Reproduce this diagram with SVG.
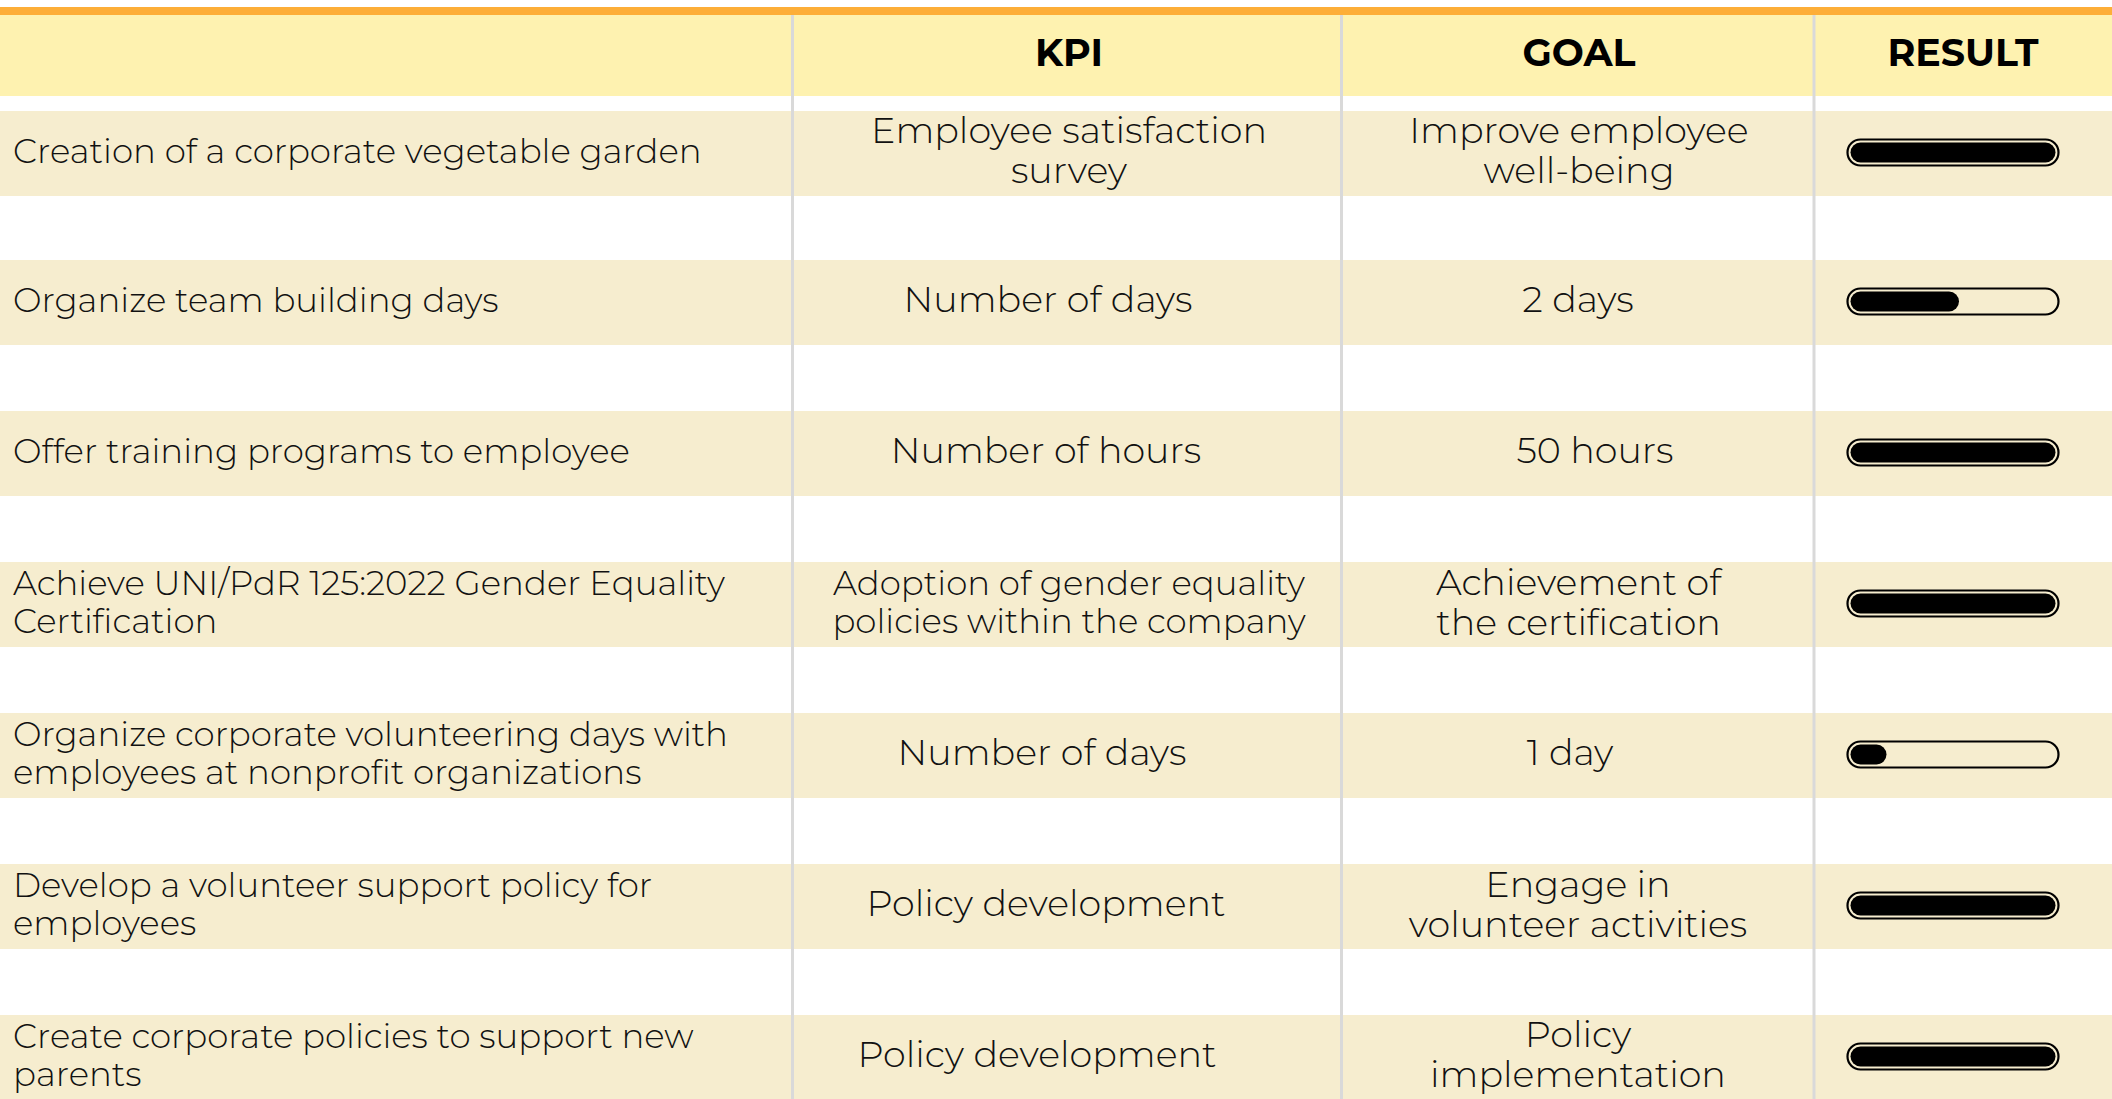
<svg xmlns="http://www.w3.org/2000/svg" width="2112" height="1099" viewBox="0 0 2112 1099">
<style>
.bg{fill:#ffffff}
.top{fill:#FDAE38}
.head{fill:#FEF2B0}
.row{fill:#F6EDCF}
.div{stroke:#D9D9D9;stroke-width:3}
.h{font-family:Montserrat,"Open Sans",sans-serif;font-size:38px;font-weight:700;fill:#000;text-anchor:middle}
.t{font-family:Montserrat,"Open Sans",sans-serif;font-size:34px;font-weight:300;fill:#111}
.c{text-anchor:middle}
.m{font-size:36.5px}
.frame{fill:#F6EDCF;stroke:#000;stroke-width:2.2}
.fill{fill:#000}
</style>
<rect class="bg" x="0" y="0" width="2112" height="1099"/>
<rect class="top" x="0" y="7" width="2112" height="8"/>
<rect class="head" x="0" y="15" width="2112" height="81"/>
<g id="rows">
<rect class="row" x="0" y="111" width="2112" height="85"/>
<rect class="row" x="0" y="260" width="2112" height="85"/>
<rect class="row" x="0" y="411" width="2112" height="85"/>
<rect class="row" x="0" y="562" width="2112" height="85"/>
<rect class="row" x="0" y="713" width="2112" height="85"/>
<rect class="row" x="0" y="864" width="2112" height="85"/>
<rect class="row" x="0" y="1015" width="2112" height="84"/>
</g>
<g id="dividers">
<line class="div" x1="792.5" y1="15" x2="792.5" y2="1099"/>
<line class="div" x1="1341.5" y1="15" x2="1341.5" y2="1099"/>
<line class="div" x1="1814" y1="15" x2="1814" y2="1099"/>
</g>
<g id="header">
<text class="h" x="1069" y="66">KPI</text>
<text class="h" x="1579" y="66">GOAL</text>
<text class="h" x="1963" y="66">RESULT</text>
</g>
<g id="row1">
<text class="t" x="13" y="163">Creation of a corporate vegetable garden</text>
<text class="t m c" x="1069" y="143">Employee satisfaction</text>
<text class="t m c" x="1069" y="183">survey</text>
<text class="t m c" x="1579" y="143">Improve employee</text>
<text class="t m c" x="1579" y="183">well-being</text>
<rect class="frame" x="1847.5" y="139.5" width="211" height="26" rx="13"/>
<rect class="fill" x="1850.5" y="142.5" width="205" height="20" rx="10"/>
</g>
<g id="row2">
<text class="t" x="13" y="312">Organize team building days</text>
<text class="t m c" x="1048" y="312">Number of days</text>
<text class="t m c" x="1578" y="312">2 days</text>
<rect class="frame" x="1847.5" y="288.5" width="211" height="26" rx="13"/>
<rect class="fill" x="1850.5" y="291.5" width="108.5" height="20" rx="10"/>
</g>
<g id="row3">
<text class="t" x="13" y="463">Offer training programs to employee</text>
<text class="t m c" x="1046" y="463">Number of hours</text>
<text class="t m c" x="1595" y="463">50 hours</text>
<rect class="frame" x="1847.5" y="439.5" width="211" height="26" rx="13"/>
<rect class="fill" x="1850.5" y="442.5" width="205" height="20" rx="10"/>
</g>
<g id="row4">
<text class="t" x="13" y="595">Achieve UNI/PdR 125:2022 Gender Equality</text>
<text class="t" x="13" y="633">Certification</text>
<text class="t c" x="1069" y="595">Adoption of gender equality</text>
<text class="t c" x="1069" y="633">policies within the company</text>
<text class="t m c" x="1578.5" y="595">Achievement of</text>
<text class="t m c" x="1578.5" y="635">the certification</text>
<rect class="frame" x="1847.5" y="590.5" width="211" height="26" rx="13"/>
<rect class="fill" x="1850.5" y="593.5" width="205" height="20" rx="10"/>
</g>
<g id="row5">
<text class="t" x="13" y="746">Organize corporate volunteering days with</text>
<text class="t" x="13" y="784">employees at nonprofit organizations</text>
<text class="t m c" x="1042" y="765">Number of days</text>
<text class="t m c" x="1570" y="765">1 day</text>
<rect class="frame" x="1847.5" y="741.5" width="211" height="26" rx="13"/>
<rect class="fill" x="1850.5" y="744.5" width="36" height="20" rx="10"/>
</g>
<g id="row6">
<text class="t" x="13" y="897">Develop a volunteer support policy for</text>
<text class="t" x="13" y="935">employees</text>
<text class="t m c" x="1046" y="916">Policy development</text>
<text class="t m c" x="1578" y="897">Engage in</text>
<text class="t m c" x="1578" y="937">volunteer activities</text>
<rect class="frame" x="1847.5" y="892.5" width="211" height="26" rx="13"/>
<rect class="fill" x="1850.5" y="895.5" width="205" height="20" rx="10"/>
</g>
<g id="row7">
<text class="t" x="13" y="1048">Create corporate policies to support new</text>
<text class="t" x="13" y="1086">parents</text>
<text class="t m c" x="1037" y="1067">Policy development</text>
<text class="t m c" x="1578" y="1047">Policy</text>
<text class="t m c" x="1578" y="1087">implementation</text>
<rect class="frame" x="1847.5" y="1043.5" width="211" height="26" rx="13"/>
<rect class="fill" x="1850.5" y="1046.5" width="205" height="20" rx="10"/>
</g>
</svg>
